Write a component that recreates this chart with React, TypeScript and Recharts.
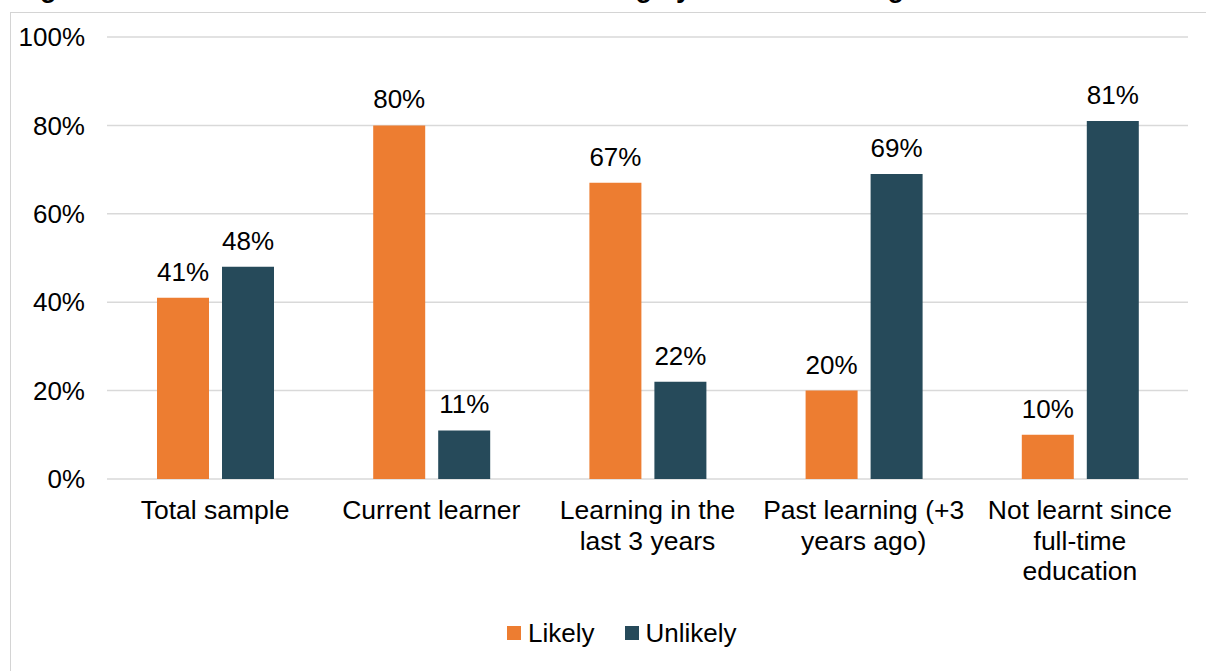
import React from 'react'
import { BarChart, Bar, XAxis, YAxis, CartesianGrid, LabelList } from 'recharts'

const categories = [
  'Total sample',
  'Current learner',
  'Learning in the\nlast 3 years',
  'Past learning (+3\nyears ago)',
  'Not learnt since\nfull-time\neducation',
]
const likely = [41, 80, 67, 20, 10]
const unlikely = [48, 11, 22, 69, 81]
const yTicks = [0, 20, 40, 60, 80, 100]

const seriesNames = ['Likely', 'Unlikely']
const seriesColors = ['#ED7D31', '#264A5A']

const data = categories.map((name, i) => ({
  name,
  likely: likely[i],
  unlikely: unlikely[i],
}))

const FONT = '"Liberation Sans", Arial, sans-serif'

// multi-line category labels under the axis
function CategoryTick(props: any) {
  const { x, y, payload } = props
  const lines = String(payload.value).split('\n')
  return (
    <text x={x} textAnchor="middle" fontSize={26.5} fontFamily={FONT} fill="#000">
      {lines.map((line, i) => (
        <tspan key={i} x={x} y={y + 40 + i * 30.5}>
          {line}
        </tspan>
      ))}
    </text>
  )
}

export default function App() {
  return (
    <div
      style={{
        position: 'absolute',
        left: 0,
        top: 0,
        width: 1206,
        height: 671,
        overflow: 'hidden',
        background: '#fff',
        fontFamily: FONT,
      }}
    >
      {/* title, mostly cropped off the top as in the source */}
      <div
        style={{
          position: 'absolute',
          left: 16,
          top: -25,
          fontSize: 27,
          lineHeight: '27px',
          fontWeight: 'bold',
          whiteSpace: 'nowrap',
          color: '#000',
        }}
      >
        Figure 5: Future informal and non-formal learning by current learning status
      </div>
      <div
        style={{
          position: 'absolute',
          left: 10,
          top: 12,
          width: 1196,
          height: 659,
          borderLeft: '1px solid #d4d4d4',
          borderTop: '1px solid #d4d4d4',
          boxSizing: 'border-box',
        }}
      />
      <div style={{ position: 'absolute', left: 0, top: 0 }}>
        <BarChart
          width={1206}
          height={671}
          data={data}
          margin={{ top: 37, right: 18, bottom: 0, left: 0 }}
          barSize={52}
          barGap={13}
        >
          <CartesianGrid vertical={false} stroke="#d9d9d9" strokeWidth={1.5} />
          <XAxis
            dataKey="name"
            height={192}
            axisLine={false}
            tickLine={false}
            tickSize={0}
            tickMargin={0}
            interval={0}
            tick={<CategoryTick />}
          />
          <YAxis
            width={107}
            domain={[0, 100]}
            ticks={yTicks}
            axisLine={false}
            tickLine={false}
            tickSize={0}
            tickMargin={22}
            tickFormatter={(v: number) => `${v}%`}
            tick={{ fontSize: 26, fontFamily: FONT, fill: '#000' }}
          />
          <Bar dataKey="likely" name={seriesNames[0]} fill={seriesColors[0]} isAnimationActive={false}>
            <LabelList
              dataKey="likely"
              position="top"
              offset={17}
              formatter={(v: any) => `${v}%`}
              style={{ fontSize: 26, fontFamily: FONT, fill: '#000' }}
            />
          </Bar>
          <Bar dataKey="unlikely" name={seriesNames[1]} fill={seriesColors[1]} isAnimationActive={false}>
            <LabelList
              dataKey="unlikely"
              position="top"
              offset={17}
              formatter={(v: any) => `${v}%`}
              style={{ fontSize: 26, fontFamily: FONT, fill: '#000' }}
            />
          </Bar>
        </BarChart>
      </div>
      {/* legend */}
      <div
        style={{
          position: 'absolute',
          left: 507,
          top: 618,
          height: 30,
          display: 'flex',
          alignItems: 'center',
          fontSize: 26,
          lineHeight: '30px',
          color: '#000',
        }}
      >
        {seriesNames.map((n, i) => (
          <div key={n} style={{ display: 'flex', alignItems: 'center', marginRight: i === 0 ? 31 : 0 }}>
            <span style={{ width: 14, height: 14, background: seriesColors[i], marginRight: i === 0 ? 7 : 6 }} />
            <span>{n}</span>
          </div>
        ))}
      </div>
    </div>
  )
}
